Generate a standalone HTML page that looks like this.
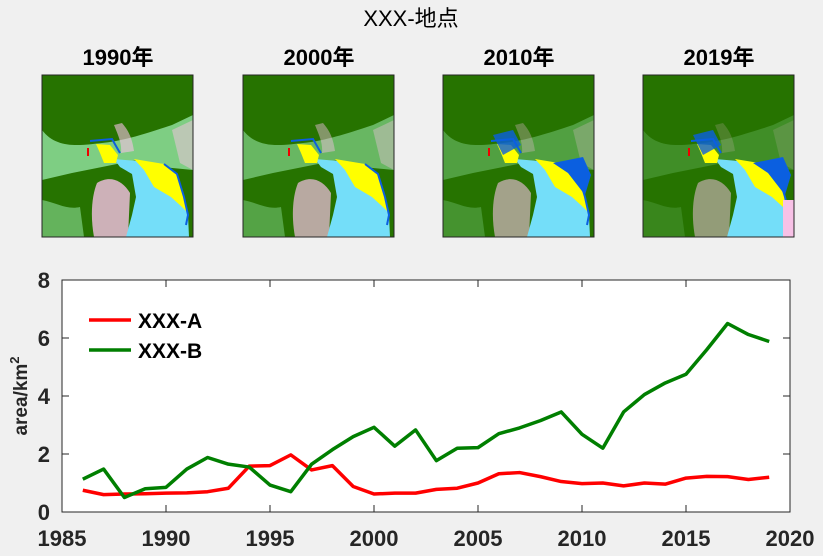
<!DOCTYPE html>
<html><head><meta charset="utf-8"><style>
body{margin:0;background:#f0f0f0;width:823px;height:556px;overflow:hidden;font-family:"Liberation Sans","Noto Sans CJK SC",sans-serif}
svg{position:absolute;left:0;top:0}
</style></head><body>
<svg width="823" height="556">
<defs>
<g id="water">
<path d="M72,84 L95,86 L122,89 L135,99 L142,122 L146,140 L147,162 L84,162 L90,140 L94,122 L90,99 L78,92 Z" fill="#74def9"/>
<path d="M92,84 L122,89 L135,99 L142,122 L146,138 L140,132 L129,122 L112,112 L102,95 Z" fill="#ffff00"/>
<path d="M54,69 L68,70 L76,80 L74,88 L62,88 L58,78 Z" fill="#ffff00"/>
<path d="M122,89 L135,99 L142,122 L146,140 L144,150" fill="none" stroke="#0b5fe0" stroke-width="2"/>
<path d="M48,66 L70,64 L78,78" fill="none" stroke="#0b5fe0" stroke-width="2"/>
<rect x="45" y="73" width="2" height="8" fill="#e00"/>
</g>
</defs>
<text x="411" y="26" text-anchor="middle" font-size="22" fill="#000">XXX-地点</text>
<g font-size="22" font-weight="bold" text-anchor="middle" fill="#000">
<text x="118" y="65">1990年</text>
<text x="319" y="65">2000年</text>
<text x="519" y="65">2010年</text>
<text x="719" y="65">2019年</text>
</g>
<g id="maps"></g>
<g id="chart"></g>
</svg>
<script>
const years=[1986,1987,1988,1989,1990,1991,1992,1993,1994,1995,1996,1997,1998,1999,2000,2001,2002,2003,2004,2005,2006,2007,2008,2009,2010,2011,2012,2013,2014,2015,2016,2017,2018,2019];
const seriesA=[0.75,0.6,0.62,0.63,0.65,0.66,0.7,0.82,1.58,1.6,1.97,1.45,1.6,0.88,0.62,0.65,0.65,0.78,0.82,1.0,1.32,1.36,1.22,1.05,0.98,1.0,0.9,1.0,0.96,1.17,1.23,1.22,1.12,1.2];
const seriesB=[1.13,1.48,0.5,0.8,0.85,1.48,1.88,1.65,1.55,0.93,0.7,1.65,2.15,2.6,2.92,2.27,2.83,1.77,2.2,2.22,2.7,2.9,3.15,3.45,2.68,2.2,3.45,4.05,4.45,4.75,5.6,6.5,6.12,5.88];
const xTicks=[1985,1990,1995,2000,2005,2010,2015,2020];
const yTicks=[0,2,4,6,8];
const NS='http://www.w3.org/2000/svg';
function mk(t,a,p){const e=document.createElementNS(NS,t);for(const k in a)e.setAttribute(k,a[k]);p.appendChild(e);return e;}
const maps=document.getElementById('maps');
const mapX=[42,243,443,643];const mapNames=['map-1990','map-2000','map-2010','map-2019'];
const lg=[1,0.75,0.5,0.3];
mapX.forEach((mx,i)=>{
 const g=mk('g',{transform:`translate(${mx},75)`},maps);
 
 
 mk('rect',{x:0,y:0,width:151,height:162,fill:'#267300'},g);
 const s=lg[i];
 mk('path',{d:'M0,55 C15,75 40,70 60,68 C80,66 100,60 130,50 L151,40 L151,95 L120,92 L95,85 L60,92 L30,98 L0,105 Z',fill:'#8ede9a',opacity:s*0.85},g);
 mk('path',{d:'M0,125 C15,128 25,135 38,132 L42,162 L0,162 Z',fill:'#8ede9a',opacity:s*0.6},g);
 mk('path',{d:'M55,108 C68,100 80,105 88,118 L86,162 L52,162 C48,140 50,120 55,108 Z',fill:'#f7c1e6',opacity:0.4+0.4*s},g);
 mk('path',{d:'M72,50 C76,60 80,68 79,78 L92,76 C90,62 86,55 80,48 Z',fill:'#f7c1e6',opacity:0.6*s},g);
 mk('path',{d:'M130,55 L151,45 L151,95 L138,88 Z',fill:'#f7c1e6',opacity:0.5*s},g);
 mk('use',{href:'#water'},g);
 if(i>=2){mk('path',{d:'M110,88 L140,82 L148,100 L142,120 L125,98 Z',fill:'#0b5fe0'},g);
  mk('path',{d:'M50,60 L70,55 L78,70 L60,80 Z',fill:'#0b5fe0',opacity:0.8},g);}
 if(i==3){mk('rect',{x:140,y:125,width:11,height:37,fill:'#f7c1e6'},g);}
 mk('rect',{x:0,y:0,width:151,height:162,fill:'none',stroke:'#262626','stroke-width':1},g);
});
const ch=document.getElementById('chart');
const X0=62,X1=790,Y0=512,Y1=280;
const xs=v=>X0+(v-1985)/(2020-1985)*(X1-X0);
const ys=v=>Y0-(v/8)*(Y0-Y1);
const plot=mk('rect',{x:X0,y:Y1,width:X1-X0,height:Y0-Y1,fill:'#fff',stroke:'#262626','stroke-width':1},ch);


xTicks.forEach(t=>{const x=xs(t);
 mk('line',{x1:x,y1:Y0,x2:x,y2:Y0-7,stroke:'#262626'},ch);
 mk('line',{x1:x,y1:Y1,x2:x,y2:Y1+7,stroke:'#262626'},ch);
 const tx=mk('text',{x:x,y:Y0+34,'text-anchor':'middle','font-size':22,'font-weight':'bold',fill:'#262626'},ch);tx.textContent=t;
 
 });
yTicks.forEach(t=>{const y=ys(t);
 mk('line',{x1:X0,y1:y,x2:X0+7,y2:y,stroke:'#262626'},ch);
 mk('line',{x1:X1,y1:y,x2:X1-7,y2:y,stroke:'#262626'},ch);
 const tx=mk('text',{x:X0-12,y:y+8,'text-anchor':'end','font-size':22,'font-weight':'bold',fill:'#262626'},ch);tx.textContent=t;
 
 });
const yl=mk('text',{x:0,y:0,transform:'translate(27,396) rotate(-90)','text-anchor':'middle','font-size':19,'font-weight':'bold',fill:'#262626'},ch);
yl.innerHTML='area/km<tspan dy="-8" font-size="13">2</tspan>';


function line(vals,col,name){const p=mk('polyline',{points:vals.map((v,i)=>xs(years[i])+','+ys(v)).join(' '),fill:'none',stroke:col,'stroke-width':3.5,'stroke-linejoin':'round'},ch);
 
 }
line(seriesA,'#ff0000','series-xxx-a');
line(seriesB,'#007f00','series-xxx-b');
[['XXX-A','#ff0000',320],['XXX-B','#007f00',350]].forEach(([n,c,y])=>{
 const g=mk('g',{},ch);
 
 
 mk('line',{x1:89,y1:y,x2:131,y2:y,stroke:c,'stroke-width':3.5},g);
 const t=mk('text',{x:138,y:y+8,'font-size':21,'font-weight':'bold',fill:'#000'},g);t.textContent=n;});
</script>
</body></html>
